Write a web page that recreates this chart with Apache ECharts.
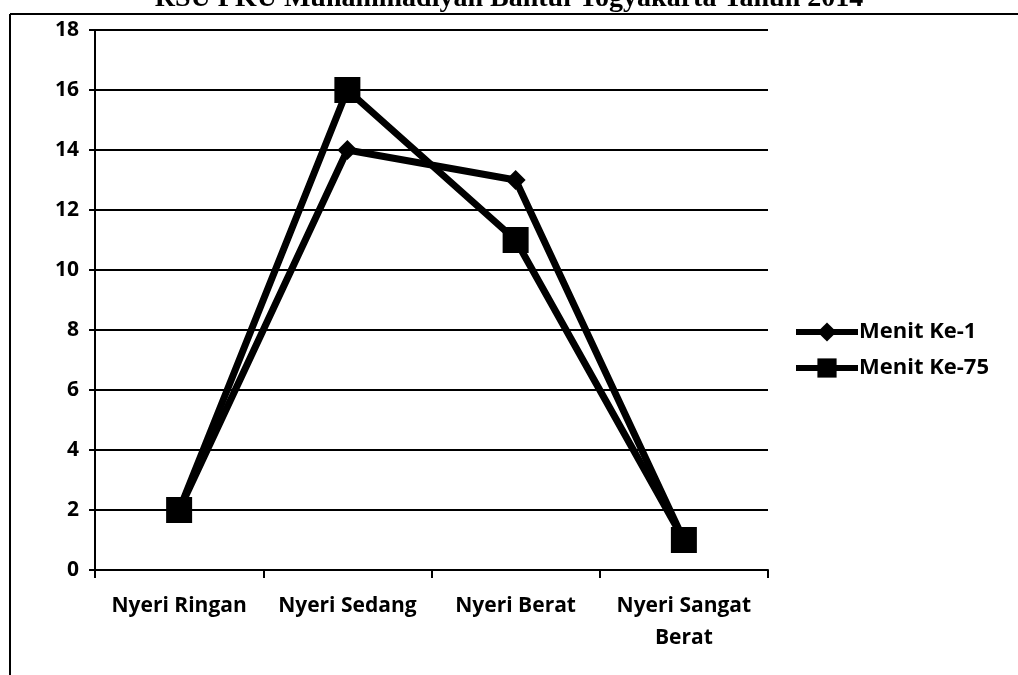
<!DOCTYPE html>
<html>
<head>
<meta charset="utf-8">
<script src="https://cdn.jsdelivr.net/npm/echarts@6/dist/echarts.min.js"></script>
<style>
  html, body { margin: 0; padding: 0; background: #fff; }
  #chart { width: 1018px; height: 675px; }
</style>
</head>
<body>
<div id="chart"></div>
<script>
// data
const categories = ['Nyeri Ringan', 'Nyeri Sedang', 'Nyeri Berat', 'Nyeri Sangat\nBerat'];
const menit1 = [2, 14, 13, 1];
const menit75 = [2, 16, 11, 1];
const seriesNames = ['Menit Ke-1', 'Menit Ke-75'];
const titleText = 'RSU PKU Muhammadiyah Bantul Yogyakarta Tahun 2014';

const myChart = echarts.init(document.getElementById('chart'));

const labelFont = { color: '#000', fontFamily: 'Open Sans', fontWeight: 'bold' };

const option = {
  backgroundColor: '#fff',
  animation: false,
  title: {
    text: titleText,
    left: 'center',
    top: -20,
    textStyle: { fontFamily: 'Liberation Serif', fontWeight: 'bold', fontSize: 28, color: '#000' }
  },
  graphic: [
    // box around the figure (left and top edge)
    { type: 'line', shape: { x1: 10, y1: 14, x2: 10, y2: 675 }, style: { stroke: '#000', lineWidth: 2 } },
    { type: 'line', shape: { x1: 10, y1: 14, x2: 1018, y2: 14 }, style: { stroke: '#000', lineWidth: 2 } }
  ],
  grid: { left: 95, top: 30, width: 673, height: 540 },
  legend: {
    orient: 'vertical',
    left: 788,
    top: 316,
    itemGap: 14,
    itemWidth: 62,
    itemHeight: 24,
    lineStyle: { width: 6 },
    textStyle: Object.assign({ fontSize: 22, padding: [0, 0, 0, -4] }, labelFont),
    data: seriesNames
  },
  xAxis: {
    type: 'category',
    data: categories,
    boundaryGap: true,
    axisLine: { lineStyle: { color: '#000', width: 2 } },
    axisTick: { show: true, length: 8, lineStyle: { color: '#000', width: 2 } },
    axisLabel: Object.assign({ fontSize: 21, margin: 20, lineHeight: 32, interval: 0 }, labelFont)
  },
  yAxis: {
    type: 'value',
    min: 0,
    max: 18,
    interval: 2,
    axisLine: { show: true, lineStyle: { color: '#000', width: 2 } },
    axisTick: { show: true, length: 6, lineStyle: { color: '#000', width: 2 } },
    splitLine: { lineStyle: { color: '#000', width: 2 } },
    axisLabel: Object.assign({ fontSize: 21, margin: 16 }, labelFont)
  },
  series: [
    {
      name: seriesNames[0],
      type: 'line',
      data: menit1,
      symbol: 'diamond',
      symbolSize: 20,
      color: '#000',
      lineStyle: { color: '#000', width: 7 },
      itemStyle: { color: '#000' }
    },
    {
      name: seriesNames[1],
      type: 'line',
      data: menit75,
      symbol: 'rect',
      symbolSize: 26,
      color: '#000',
      lineStyle: { color: '#000', width: 7 },
      itemStyle: { color: '#000' }
    }
  ]
};

myChart.setOption(option);
</script>
</body>
</html>
